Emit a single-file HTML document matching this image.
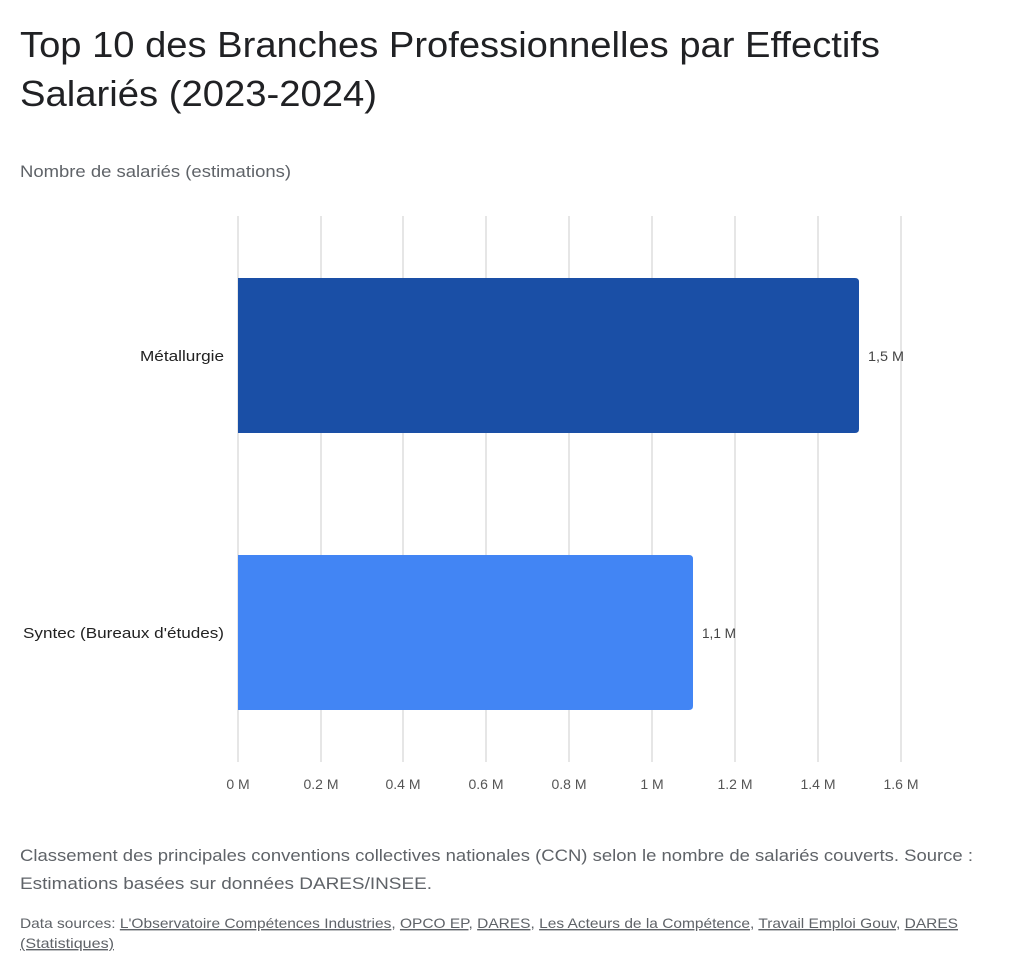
<!DOCTYPE html>
<html><head><meta charset="utf-8"><style>
body{margin:0;background:#fff;width:1024px;height:974px;overflow:hidden;font-family:"Liberation Sans",sans-serif}
</style></head><body>
<svg width="1024" height="974" xmlns="http://www.w3.org/2000/svg" font-family="Liberation Sans, sans-serif">
<text x="20" y="57" font-size="36" fill="#202124" textLength="860" lengthAdjust="spacingAndGlyphs">Top 10 des Branches Professionnelles par Effectifs</text>
<text x="20" y="106" font-size="36" fill="#202124" textLength="357" lengthAdjust="spacingAndGlyphs">Salariés (2023-2024)</text>
<text x="20" y="177" font-size="17" fill="#5f6368" textLength="271" lengthAdjust="spacingAndGlyphs">Nombre de salariés (estimations)</text>
<g stroke="#cccccc" stroke-width="1">
<line x1="238" y1="216" x2="238" y2="762"/>
<line x1="321" y1="216" x2="321" y2="762"/><line x1="403" y1="216" x2="403" y2="762"/>
<line x1="486" y1="216" x2="486" y2="762"/><line x1="569" y1="216" x2="569" y2="762"/>
<line x1="652" y1="216" x2="652" y2="762"/><line x1="735" y1="216" x2="735" y2="762"/>
<line x1="818" y1="216" x2="818" y2="762"/><line x1="901" y1="216" x2="901" y2="762"/>
</g>
<path d="M238 278 H855 Q859 278 859 282 V429 Q859 433 855 433 H238 Z" fill="#1a4fa6"/>
<path d="M238 555 H689 Q693 555 693 559 V706 Q693 710 689 710 H238 Z" fill="#4285f4"/>
<text x="868" y="361" font-size="14" fill="#444" textLength="36" lengthAdjust="spacingAndGlyphs">1,5 M</text>
<text x="702" y="638" font-size="14" fill="#444" textLength="34" lengthAdjust="spacingAndGlyphs">1,1 M</text>
<text x="140" y="361" font-size="15" fill="#222" textLength="84" lengthAdjust="spacingAndGlyphs">Métallurgie</text>
<text x="23" y="638" font-size="15" fill="#222" textLength="201" lengthAdjust="spacingAndGlyphs">Syntec (Bureaux d'études)</text>
<g font-size="14" fill="#555" text-anchor="middle">
<text x="238" y="789">0 M</text><text x="321" y="789">0.2 M</text><text x="403" y="789">0.4 M</text>
<text x="486" y="789">0.6 M</text><text x="569" y="789">0.8 M</text><text x="652" y="789">1 M</text>
<text x="735" y="789">1.2 M</text><text x="818" y="789">1.4 M</text><text x="901" y="789">1.6 M</text>
</g>
<text x="20" y="861" font-size="17" fill="#5f6368" textLength="953" lengthAdjust="spacingAndGlyphs">Classement des principales conventions collectives nationales (CCN) selon le nombre de salariés couverts. Source :</text>
<text x="20" y="889" font-size="17" fill="#5f6368" textLength="412" lengthAdjust="spacingAndGlyphs">Estimations basées sur données DARES/INSEE.</text>
<text x="20" y="928" font-size="14" fill="#5f6368" textLength="938" lengthAdjust="spacingAndGlyphs">Data sources: <tspan text-decoration="underline">L'Observatoire Compétences Industries</tspan>, <tspan text-decoration="underline">OPCO EP</tspan>, <tspan text-decoration="underline">DARES</tspan>, <tspan text-decoration="underline">Les Acteurs de la Compétence</tspan>, <tspan text-decoration="underline">Travail Emploi Gouv</tspan>, <tspan text-decoration="underline">DARES</tspan></text>
<text x="20" y="948" font-size="14" fill="#5f6368" text-decoration="underline" textLength="94" lengthAdjust="spacingAndGlyphs">(Statistiques)</text>
</svg>
</body></html>
